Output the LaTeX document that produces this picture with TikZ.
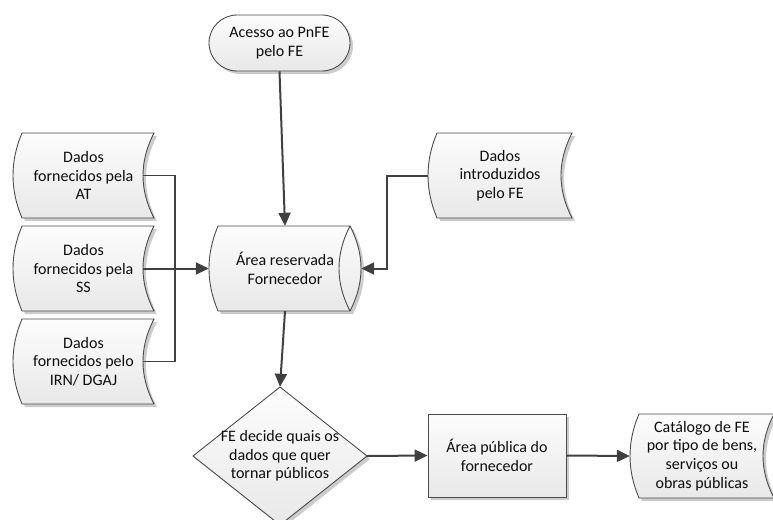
\documentclass[tikz,border=0pt]{standalone}
\usepackage{fontspec}
\setmainfont{Carlito}
\usetikzlibrary{arrows.meta}

\tikzset{
  shp/.style={draw=black!70, line width=0.9pt, top color=black!1, bottom color=black!9},
  shd/.style={fill=black!20},
  txt/.style={align=center, font=\fontsize{16}{18.6}\selectfont, text=black!95, inner sep=0pt},
  conn/.style={draw=black!75, line width=2pt, -{Triangle[length=13pt,width=12pt]}},
  link/.style={draw=black!75, line width=1.7pt},
}

% stored data shape: style, L, T, R, B
\newcommand\sdshape[5]{%
  \path[#1] ({#2+9},#3) -- (#4,#3)
    .. controls ({#4-14.67},{#3+(#5-#3)/3}) and ({#4-14.67},{#5-(#5-#3)/3}) .. (#4,#5)
    -- ({#2+9},#5)
    .. controls ({#2-3},{#5-(#5-#3)/3}) and ({#2-3},{#3+(#5-#3)/3}) .. cycle;}
% name, L, T, R, B, text
\newcommand\sdata[6]{%
  \begin{scope}[shift={(3,3)}]\sdshape{shd}{#2}{#3}{#4}{#5}\end{scope}
  \sdshape{shp}{#2}{#3}{#4}{#5}
  \node[txt, minimum width={(#4-#2)*1pt}, minimum height={(#5-#3)*1pt}] (#1)
    at ({(#2+#4)/2},{(#3+#5)/2}) {#6};}

\begin{document}
\begin{tikzpicture}[x=1pt, y=-1pt]
\useasboundingbox (0,0) rectangle (773,519);
\clip (0,0) rectangle (773,519);

% terminator
\path[shd, rounded corners=28pt] (212,18) rectangle (353,74);
\node[shp, txt, rounded corners=28pt, minimum width=141pt, minimum height=56pt]
  (start) at (279.5,43) {Acesso ao PnFE\\pelo FE};

% stored data
\sdata{at}{13}{133}{154}{218}{Dados\\fornecidos pela\\AT}
\sdata{ss}{13}{226}{154}{311}{Dados\\fornecidos pela\\SS}
\sdata{irn}{13}{319}{154}{404}{Dados\\fornecidos pelo\\IRN/ DGAJ}
\sdata{intro}{428}{133}{572}{218}{Dados\\introduzidos\\pelo FE}
\sdata{cat}{630}{414}{774}{498}{Catálogo de FE\\por tipo de bens,\\serviços ou\\obras públicas}

% cylinder (direct access storage)
\begin{scope}[shift={(3,3)}]
\path[shd] (218,226) -- (350,226) .. controls (364.67,254.3) and (364.67,282.7) .. (350,311)
  -- (218,311) .. controls (206,282.7) and (206,254.3) .. cycle;
\end{scope}
\path[shp] (218,226) -- (350,226) .. controls (364.67,254.3) and (364.67,282.7) .. (350,311)
  -- (218,311) .. controls (206,282.7) and (206,254.3) .. cycle;
\draw[black!70, line width=0.9pt] (350,226) .. controls (335.33,254.3) and (335.33,282.7) .. (350,311);
\node[txt, minimum width=152pt, minimum height=85pt] (cyl) at (285,268.5) {Área reservada\\Fornecedor};

% decision diamond
\path[shd] (283,390) -- (370,459) -- (283,528) -- (196,459) -- cycle;
\path[shp] (280,387) -- (367,456) -- (280,525) -- (193,456) -- cycle;
\node[txt, minimum width=174pt, minimum height=138pt] (dec) at (280,456)
  {FE decide quais os\\dados que quer\\tornar públicos};

% process rectangle
\path[shd] (431,417) rectangle (569,500);
\node[shp, txt, minimum width=138pt, minimum height=83pt] (pub) at (497,455.5)
  {Área pública do\\fornecedor};

% connectors
\coordinate (j) at (175,268.5);
\coordinate (k) at (387,268.5);
\draw[conn] (start.south) -- (cyl.north);
\draw[link] ([xshift=-11pt]at.east) -| (j);
\draw[link] ([xshift=-11pt]irn.east) -| (j);
\draw[conn] ([xshift=-11pt]ss.east) -- (cyl.west);
\draw[conn] (intro.west) -| (k) -- (cyl.east);
\draw[conn] (cyl.south) -- (dec.north);
\draw[conn] (dec.east) -- (pub.west);
\draw[conn] (pub.east) -- (cat.west);
\end{tikzpicture}
\end{document}
